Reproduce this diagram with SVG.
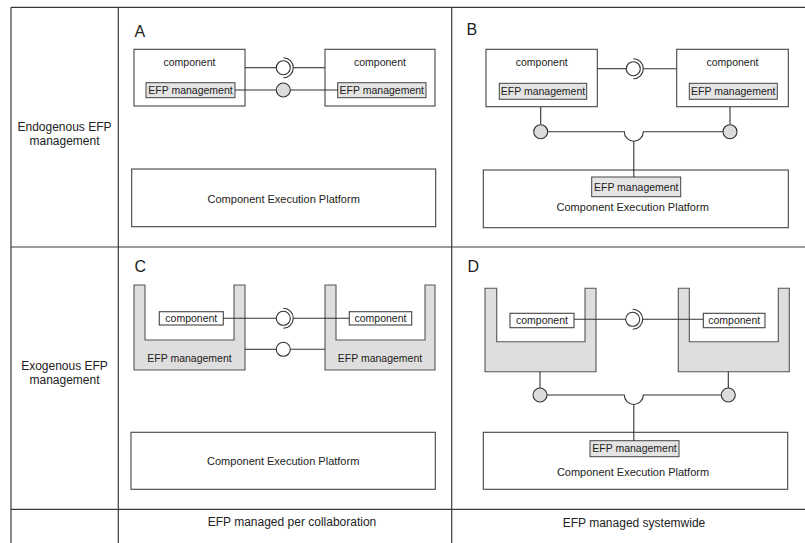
<svg xmlns="http://www.w3.org/2000/svg" width="805" height="543" viewBox="0 0 805 543">
  <style>
    text { font-family: "Liberation Sans", Arial, sans-serif; fill: #222; text-anchor: middle; }
    .lbl { font-size: 12px; }
    .foot { font-size: 12px; }
    .big { font-size: 16px; text-anchor: start; }
    .sm { font-size: 10.5px; }
    .pf { font-size: 11px; }
    .grid { stroke: #3a3a3a; stroke-width: 1.2; fill: none; }
    .box { fill: #fff; stroke: #444; stroke-width: 1.1; }
    .efp { fill: #e4e4e4; stroke: #444; stroke-width: 1; }
    .cont { fill: #dedede; stroke: #555; stroke-width: 1.1; }
    .wire { stroke: #333; stroke-width: 1.1; fill: none; }
    .ball { fill: #dcdcdc; stroke: #333; stroke-width: 1.1; }
    .ballw { fill: #fff; stroke: #333; stroke-width: 1.1; }
  </style>

  <!-- table grid -->
  <g id="grid" class="grid">
    <line x1="11" y1="7.3" x2="805" y2="7.3"/>
    <line x1="11" y1="247" x2="805" y2="247"/>
    <line x1="11" y1="509.3" x2="805" y2="509.3"/>
    <line x1="11" y1="7.3" x2="11" y2="543"/>
    <line x1="118.3" y1="7.3" x2="118.3" y2="543"/>
    <line x1="451.7" y1="7.3" x2="451.7" y2="543"/>
  </g>

  <!-- row and column headings -->
  <g id="headings">
    <text class="lbl" x="64.5" y="131">Endogenous EFP</text>
    <text class="lbl" x="64.5" y="145">management</text>
    <text class="lbl" x="64.5" y="370">Exogenous EFP</text>
    <text class="lbl" x="64.5" y="384">management</text>
    <text class="foot" x="292" y="526">EFP managed per collaboration</text>
    <text class="foot" x="634" y="527">EFP managed systemwide</text>
    <text class="big" x="134.5" y="36.5">A</text>
    <text class="big" x="466.5" y="35">B</text>
    <text class="big" x="134.5" y="272">C</text>
    <text class="big" x="467.5" y="272">D</text>
  </g>

  <!-- Panel A -->
  <g id="a-comp-left">
    <rect class="box" x="134" y="49.3" width="111" height="56.7"/>
    <text class="sm" x="189.5" y="65.7">component</text>
    <rect class="efp" x="146" y="82.7" width="89" height="15"/>
    <text class="sm" x="190.5" y="94">EFP management</text>
  </g>
  <g id="a-comp-right">
    <rect class="box" x="325" y="49.3" width="110" height="56.7"/>
    <text class="sm" x="380" y="65.7">component</text>
    <rect class="efp" x="337.7" y="82.7" width="88.3" height="15"/>
    <text class="sm" x="381.8" y="94">EFP management</text>
  </g>
  <g id="a-platform">
    <rect class="box" x="131.7" y="169" width="304" height="57.7"/>
    <text class="pf" x="283.7" y="203">Component Execution Platform</text>
  </g>

  <!-- Panel B -->
  <g id="b-comp-left">
    <rect class="box" x="486" y="49.3" width="111.3" height="57.4"/>
    <text class="sm" x="541.7" y="65.7">component</text>
    <rect class="efp" x="499.3" y="83.3" width="87.4" height="16"/>
    <text class="sm" x="543" y="95">EFP management</text>
  </g>
  <g id="b-comp-right">
    <rect class="box" x="676.7" y="49.3" width="111.6" height="57.4"/>
    <text class="sm" x="732.5" y="65.7">component</text>
    <rect class="efp" x="689.3" y="83.3" width="88" height="16"/>
    <text class="sm" x="733.3" y="95">EFP management</text>
  </g>
  <g id="b-platform">
    <rect class="box" x="483.3" y="170" width="305" height="57.7"/>
    <rect class="efp" x="591.7" y="177" width="89" height="19.7"/>
    <text class="sm" x="636.2" y="190.7">EFP management</text>
    <text class="pf" x="632.7" y="211">Component Execution Platform</text>
  </g>

  <!-- Panel C -->
  <g id="c-container-left">
    <path class="cont" d="M134,285 V370 H245 V285 H234 V340 H145 V285 Z"/>
    <text class="sm" x="189.5" y="362">EFP management</text>
    <rect class="box" x="159.3" y="311.7" width="64" height="13.3"/>
    <text class="sm" x="191.3" y="322">component</text>
  </g>
  <g id="c-container-right">
    <path class="cont" d="M325,285 V370 H435 V285 H425 V340 H336 V285 Z"/>
    <text class="sm" x="380" y="362">EFP management</text>
    <rect class="box" x="349.3" y="311.7" width="62.4" height="13.3"/>
    <text class="sm" x="380.5" y="322">component</text>
  </g>
  <g id="c-platform">
    <rect class="box" x="131" y="432.3" width="304.3" height="57"/>
    <text class="pf" x="283.2" y="465">Component Execution Platform</text>
  </g>

  <!-- Panel D -->
  <g id="d-container-left">
    <path class="cont" d="M485,288.3 V371.7 H596 V288.3 H585 V341.7 H496.7 V288.3 Z"/>
    <rect class="box" x="510" y="313.3" width="64" height="14.4"/>
    <text class="sm" x="542" y="324">component</text>
  </g>
  <g id="d-container-right">
    <path class="cont" d="M678.3,288.3 V371.7 H789.3 V288.3 H778.3 V341.7 H689.3 V288.3 Z"/>
    <rect class="box" x="703.3" y="313.3" width="61.7" height="14.4"/>
    <text class="sm" x="734.2" y="324">component</text>
  </g>
  <g id="d-platform">
    <rect class="box" x="483.3" y="432.3" width="304.4" height="57"/>
    <rect class="efp" x="590" y="440.7" width="89" height="16"/>
    <text class="sm" x="634.5" y="452.4">EFP management</text>
    <text class="pf" x="633" y="475.6">Component Execution Platform</text>
  </g>

  <!-- connectors: lines, provided balls and required sockets -->
  <g id="connectors">
    <!-- A -->
    <line class="wire" x1="245" y1="67.7" x2="276.3" y2="67.7"/>
    <circle class="ballw" cx="283.3" cy="67.7" r="7"/>
    <path class="wire" d="M283.3,57.7 A10,10 0 0 1 283.3,77.7"/>
    <line class="wire" x1="293.3" y1="67.7" x2="325" y2="67.7"/>
    <line class="wire" x1="235" y1="90" x2="276.3" y2="90"/>
    <circle class="ball" cx="283.3" cy="90" r="7"/>
    <line class="wire" x1="290.3" y1="90" x2="337.7" y2="90"/>

    <!-- B -->
    <line class="wire" x1="597.3" y1="68.7" x2="626.3" y2="68.7"/>
    <circle class="ballw" cx="633.3" cy="68.7" r="7"/>
    <path class="wire" d="M633.3,58.7 A10,10 0 0 1 633.3,78.7"/>
    <line class="wire" x1="643.3" y1="68.7" x2="676.7" y2="68.7"/>
    <line class="wire" x1="540.7" y1="106.7" x2="540.7" y2="124.7"/>
    <circle class="ball" cx="540.7" cy="131.7" r="7"/>
    <line class="wire" x1="730" y1="106.7" x2="730" y2="124.7"/>
    <circle class="ball" cx="730" cy="131.7" r="7"/>
    <path class="wire" d="M547.7,131.7 H624.3 A9.5,9.5 0 0 0 643.3,131.7 H723"/>
    <line class="wire" x1="633.8" y1="141.2" x2="633.8" y2="177"/>

    <!-- C -->
    <line class="wire" x1="223.3" y1="318.3" x2="276.3" y2="318.3"/>
    <circle class="ballw" cx="283.3" cy="318.3" r="7"/>
    <path class="wire" d="M283.3,308.3 A10,10 0 0 1 283.3,328.3"/>
    <line class="wire" x1="293.3" y1="318.3" x2="349.3" y2="318.3"/>
    <line class="wire" x1="245" y1="349.3" x2="276.3" y2="349.3"/>
    <circle class="ballw" cx="283.3" cy="349.3" r="7"/>
    <line class="wire" x1="290.3" y1="349.3" x2="325" y2="349.3"/>

    <!-- D -->
    <line class="wire" x1="574" y1="319.3" x2="625.7" y2="319.3"/>
    <circle class="ballw" cx="632.7" cy="319.3" r="7"/>
    <path class="wire" d="M632.7,309.3 A10,10 0 0 1 632.7,329.3"/>
    <line class="wire" x1="642.7" y1="319.3" x2="703.3" y2="319.3"/>
    <line class="wire" x1="540" y1="371.7" x2="540" y2="388"/>
    <circle class="ball" cx="540" cy="395" r="7"/>
    <line class="wire" x1="728.3" y1="371.7" x2="728.3" y2="388"/>
    <circle class="ball" cx="728.3" cy="395" r="7"/>
    <path class="wire" d="M547,395 H624.3 A9.5,9.5 0 0 0 643.3,395 H721.3"/>
    <line class="wire" x1="633.8" y1="404.5" x2="633.8" y2="440.7"/>
  </g>
</svg>
